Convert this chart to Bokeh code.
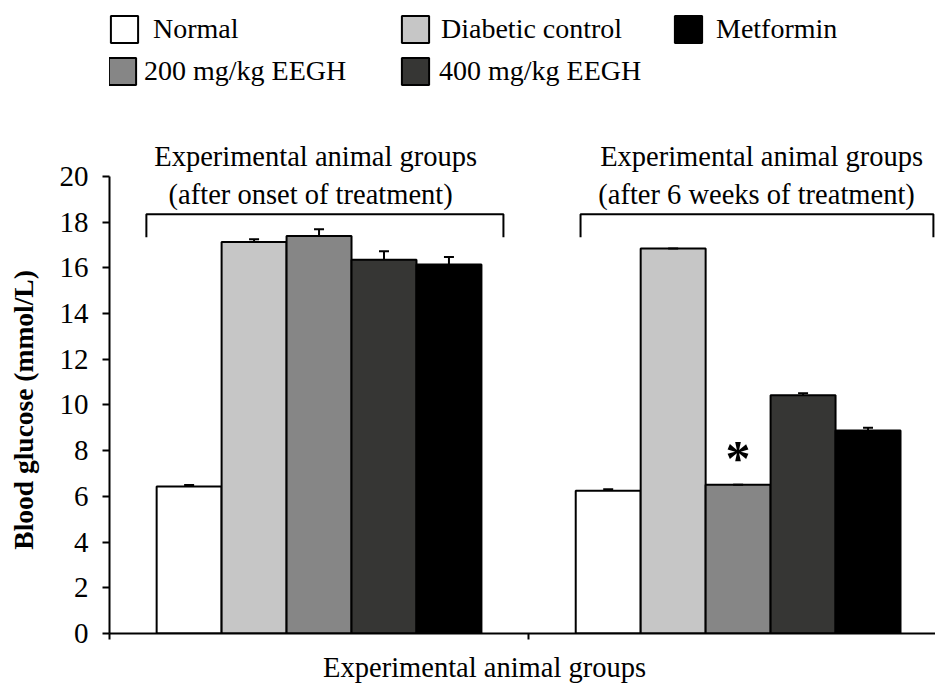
from bokeh.plotting import figure
from bokeh.models import (Range1d, FixedTicker, Whisker, TeeHead, Legend,
                          LegendItem, ColumnDataSource, LinearAxis)
from bokeh.core.properties import value
from bokeh.embed import file_html
from bokeh.resources import INLINE

# ---------------- data ----------------
groups = ["after onset of treatment", "after 6 weeks of treatment"]
group_title_line1 = ["Experimental animal groups", "Experimental animal groups"]
group_title_line2 = ["(after onset of treatment)", "(after 6 weeks of treatment)"]
series = ["Normal", "Diabetic control", "200 mg/kg EEGH", "400 mg/kg EEGH", "Metformin"]
normal = [6.43, 6.24]
diabetic = [17.13, 16.84]
eegh200 = [17.39, 6.51]
eegh400 = [16.35, 10.42]
metformin = [16.14, 8.88]
normal_err = [0.07, 0.07]
diabetic_err = [0.12, 0.0]
eegh200_err = [0.29, 0.0]
eegh400_err = [0.37, 0.09]
metformin_err = [0.33, 0.12]
significant_series = "200 mg/kg EEGH"
significant_group = 1
y_ticks = [0, 2, 4, 6, 8, 10, 12, 14, 16, 18, 20]
y_label = "Blood glucose (mmol/L)"
x_label = "Experimental animal groups"

# ---------------- style ----------------
FONT = "Liberation Serif"
colors = ["#ffffff", "#c6c6c6", "#868686", "#363634", "#000000"]
values = [normal, diabetic, eegh200, eegh400, metformin]
errors = [normal_err, diabetic_err, eegh200_err, eegh400_err, metformin_err]
bar_w = 0.155
offsets = [(i - 2) * bar_w for i in range(len(series))]

p = figure(width=935, height=685, x_range=Range1d(0, 1.971), y_range=Range1d(0, 27.69),
           output_backend="svg", toolbar_location=None,
           min_border_left=109, min_border_right=0, min_border_top=0, min_border_bottom=51)
p.outline_line_color = None
p.xgrid.visible = False
p.ygrid.visible = False
p.background_fill_color = "white"

# y axis
ya = p.yaxis[0]
ya.ticker = FixedTicker(ticks=y_ticks)
ya.bounds = (0, 20)
ya.axis_line_width = 2
ya.axis_line_color = "black"
ya.major_tick_line_width = 2
ya.major_tick_in = 0
ya.major_tick_out = 7
ya.minor_tick_in = 0
ya.minor_tick_out = 0
ya.major_label_standoff = 14
ya.major_label_text_font = FONT
ya.major_label_text_font_size = "29px"
ya.major_label_text_color = "black"

# outer left axis carrying the y title, centred on the 0-20 span of the value axis
y_label_pos = 9.78
ytitle_axis = LinearAxis(ticker=FixedTicker(ticks=[y_label_pos]), axis_line_color=None,
                         major_tick_line_color=None, minor_tick_line_color=None,
                         major_tick_in=0, major_tick_out=0, minor_tick_in=0, minor_tick_out=0,
                         major_label_overrides={y_label_pos: y_label},
                         major_label_orientation="vertical", major_label_standoff=17,
                         major_label_text_font=FONT, major_label_text_font_size="27.5px",
                         major_label_text_font_style="bold", major_label_text_color="black")
p.add_layout(ytitle_axis, "left")

# x axis: group boundary marks (minor ticks) and the axis title as the only label
x_label_pos = 0.895
xa = p.xaxis[0]
xa.ticker = FixedTicker(ticks=[x_label_pos], minor_ticks=[0, 1, 2])
xa.major_label_overrides = {x_label_pos: x_label}
xa.axis_line_width = 2
xa.axis_line_color = "black"
xa.major_tick_in = 0
xa.major_tick_out = 0
xa.minor_tick_in = 0
xa.minor_tick_out = 6
xa.minor_tick_line_width = 2
xa.minor_tick_line_color = "black"
xa.major_label_standoff = 12
xa.major_label_text_font = FONT
xa.major_label_text_font_size = "28.5px"
xa.major_label_text_color = "black"

renderers = []
for i, name in enumerate(series):
    xs = [g + 0.5 + offsets[i] for g in range(len(groups))]
    src = ColumnDataSource(dict(
        x=xs, top=values[i],
        lower=values[i],
        upper=[v + e for v, e in zip(values[i], errors[i])]))
    r = p.vbar(x="x", top="top", width=bar_w, source=src, fill_color=colors[i],
               line_color="black", line_width=2)
    renderers.append(r)
    wk = Whisker(base="x", upper="upper", lower="lower", source=src, dimension="height",
                 line_width=2, line_color="black",
                 upper_head=TeeHead(size=10, line_width=2, line_color="black"),
                 lower_head=None, level="annotation")
    p.add_layout(wk)

# significance star
si = series.index(significant_series)
p.text(x=[significant_group + 0.5 + offsets[si]], y=[values[si][significant_group] + 1.18],
       text=["*"], text_font=value(FONT), text_font_size="50px", text_font_style="bold",
       text_align="center", text_baseline="alphabetic", text_color="black")

# group brackets and titles
p.text(x=[0.492, 1.556], y=[20.85, 20.85], text=group_title_line1, text_font=value(FONT),
       text_font_size="28.5px", text_align="center", text_baseline="alphabetic",
       text_color="black")
p.text(x=[0.480, 1.544], y=[19.22, 19.22], text=group_title_line2, text_font=value(FONT),
       text_font_size="28.5px", text_align="center", text_baseline="alphabetic",
       text_color="black")
bracket_left = [0.088, 1.124]
bracket_right = [0.940, 1.966]
bracket_top = 18.34
bracket_bottom = 17.33
p.multi_line(xs=[[l, l, r, r] for l, r in zip(bracket_left, bracket_right)],
             ys=[[bracket_bottom, bracket_top, bracket_top, bracket_bottom]] * 2,
             line_color="black", line_width=2)

# legends (one per entry to reproduce the placement)
leg_pos = {
    "Normal": (-2, 587, 12),
    "Diabetic control": (289, 587, 9),
    "Metformin": (562, 587, 11),
    "200 mg/kg EEGH": (-4, 545, 5),
    "400 mg/kg EEGH": (289, 545, 7),
}
for i, name in enumerate(series):
    vx, vy, so = leg_pos[name]
    lg = Legend(items=[LegendItem(label=name, renderers=[renderers[i]])],
                location=(vx, vy), glyph_width=34, glyph_height=34, label_standoff=so,
                padding=0, margin=0, spacing=0, border_line_color=None,
                background_fill_alpha=0, label_text_font=FONT,
                label_text_font_size="28px", label_text_color="black")
    p.add_layout(lg)

open("out.html", "w").write(file_html(p, INLINE))
